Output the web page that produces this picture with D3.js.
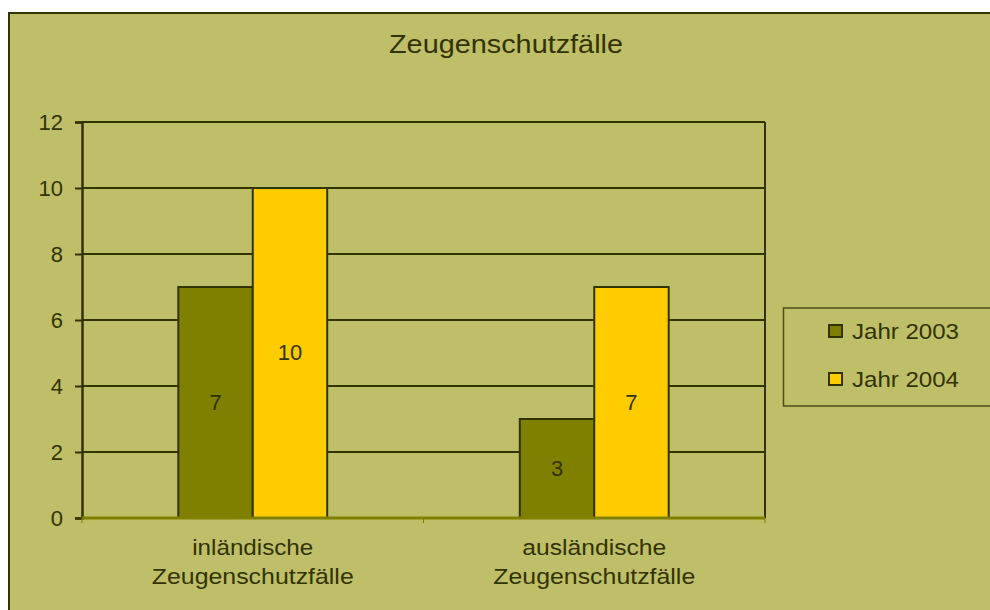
<!DOCTYPE html>
<html>
<head>
<meta charset="utf-8">
<script src="https://cdn.jsdelivr.net/npm/d3@7"></script>
<style>
  html, body { margin: 0; padding: 0; background: #ffffff; }
  svg { display: block; }
  text { font-family: "Liberation Sans", Arial, sans-serif; fill: #333300; }
</style>
</head>
<body>
<svg id="chart" width="990" height="610"></svg>
<script>
// Chart data
const title = "Zeugenschutzfälle";
const categories = ["inländische Zeugenschutzfälle", "ausländische Zeugenschutzfälle"];
const categoryLines = [["inländische", "Zeugenschutzfälle"], ["ausländische", "Zeugenschutzfälle"]];
const seriesNames = ["Jahr 2003", "Jahr 2004"];
const values2003 = [7, 3];
const values2004 = [10, 7];
const yTicks = [0, 2, 4, 6, 8, 10, 12];

const colors = ["#808000", "#FFCC00"];
const ink = "#333300";
const bg = "#BFBF69";

const svg = d3.select("#chart");

// Chart area background with frame on the top and left
svg.append("rect").attr("x", 9).attr("y", 13).attr("width", 1000).attr("height", 620)
  .attr("fill", bg).attr("stroke", ink).attr("stroke-width", 2);

// Title (text is drawn slightly widened)
svg.append("text").attr("x", 506).attr("y", 53)
  .attr("text-anchor", "middle").attr("font-size", 25)
  .attr("textLength", 234).attr("lengthAdjust", "spacingAndGlyphs")
  .text(title);

const plot = { left: 82, right: 765, top: 122, bottom: 518 };

const x0 = d3.scaleBand().domain(categories).range([plot.left, plot.right]).padding(0);
const bw = x0.bandwidth();
const x1 = d3.scaleBand().domain(seriesNames).range([bw * 0.282, bw * 0.718]).padding(0);
const y = d3.scaleLinear().domain([0, 12]).range([plot.bottom, plot.top]);

// Horizontal grid lines
svg.append("g").selectAll("line").data(yTicks.filter(d => d > 0)).join("line")
  .attr("x1", plot.left).attr("x2", plot.right)
  .attr("y1", d => y(d)).attr("y2", d => y(d))
  .attr("stroke", ink).attr("stroke-width", 2);

// Right edge of the plot area
svg.append("line").attr("x1", plot.right).attr("x2", plot.right)
  .attr("y1", plot.top).attr("y2", plot.bottom)
  .attr("stroke", ink).attr("stroke-width", 2);

// Y axis
const yAxis = svg.append("g").attr("transform", `translate(${plot.left},0)`)
  .call(d3.axisLeft(y).tickValues(yTicks).tickSizeOuter(0).tickSize(7).tickPadding(12));
yAxis.select(".domain").attr("stroke", ink).attr("stroke-width", 2.5);
yAxis.selectAll(".tick line").attr("stroke", ink).attr("stroke-width", 2);
yAxis.selectAll(".tick text").attr("font-size", 22).attr("fill", ink)
  .attr("font-family", "'Liberation Sans', Arial, sans-serif");

// Bars
const rows = categories.map((c, i) => ({ cat: c, vals: [values2003[i], values2004[i]] }));
const groups = svg.append("g").selectAll("g").data(rows).join("g")
  .attr("transform", d => `translate(${x0(d.cat)},0)`);

groups.selectAll("rect").data(d => d.vals.map((v, j) => ({ v, s: seriesNames[j], j }))).join("rect")
  .attr("x", d => x1(d.s)).attr("width", x1.bandwidth())
  .attr("y", d => y(d.v)).attr("height", d => y(0) - y(d.v))
  .attr("fill", d => colors[d.j]).attr("stroke", ink).attr("stroke-width", 2);

// Value labels in the middle of each bar
groups.selectAll("text.val").data(d => d.vals.map((v, j) => ({ v, s: seriesNames[j] }))).join("text")
  .attr("class", "val")
  .attr("x", d => x1(d.s) + x1.bandwidth() / 2)
  .attr("y", d => (y(d.v) + y(0)) / 2)
  .attr("dy", "0.33em")
  .attr("text-anchor", "middle").attr("font-size", 22)
  .text(d => d.v);

// X axis
const xAxisY = plot.bottom;
svg.append("line").attr("x1", plot.left).attr("x2", plot.right)
  .attr("y1", xAxisY).attr("y2", xAxisY)
  .attr("stroke", "#808000").attr("stroke-width", 3);
const boundaries = [plot.left, ...categories.map(c => x0(c) + bw)];
svg.append("g").selectAll("line").data(boundaries).join("line")
  .attr("x1", d => d).attr("x2", d => d)
  .attr("y1", xAxisY).attr("y2", xAxisY + 5)
  .attr("stroke", "#808000").attr("stroke-width", 1);

// Category labels (two lines each, widened)
const lineWidths = { "inländische": 121, "ausländische": 144, "Zeugenschutzfälle": 202 };
const catLabels = svg.append("g").selectAll("text").data(categories).join("text")
  .attr("text-anchor", "middle").attr("font-size", 22);
catLabels.each(function (c, i) {
  const t = d3.select(this);
  const cx = x0(c) + bw / 2;
  categoryLines[i].forEach((line, k) => {
    t.append("tspan").attr("x", cx).attr("y", 555 + k * 29)
      .attr("textLength", lineWidths[line]).attr("lengthAdjust", "spacingAndGlyphs")
      .text(line);
  });
});

// Legend
const legend = svg.append("g");
legend.append("rect").attr("x", 783.5).attr("y", 308).attr("width", 230).attr("height", 98)
  .attr("fill", "none").attr("stroke", "#4d4d1a").attr("stroke-width", 1.5);
const items = legend.selectAll("g").data(seriesNames).join("g")
  .attr("transform", (d, i) => `translate(829,${331 + i * 48})`);
items.append("rect").attr("x", 0).attr("y", -6).attr("width", 13).attr("height", 12)
  .attr("fill", (d, i) => colors[i]).attr("stroke", ink).attr("stroke-width", 2);
items.append("text").attr("x", 23).attr("y", 0).attr("dy", "0.35em")
  .attr("font-size", 22)
  .attr("textLength", 107).attr("lengthAdjust", "spacingAndGlyphs")
  .text(d => d);
</script>
</body>
</html>
